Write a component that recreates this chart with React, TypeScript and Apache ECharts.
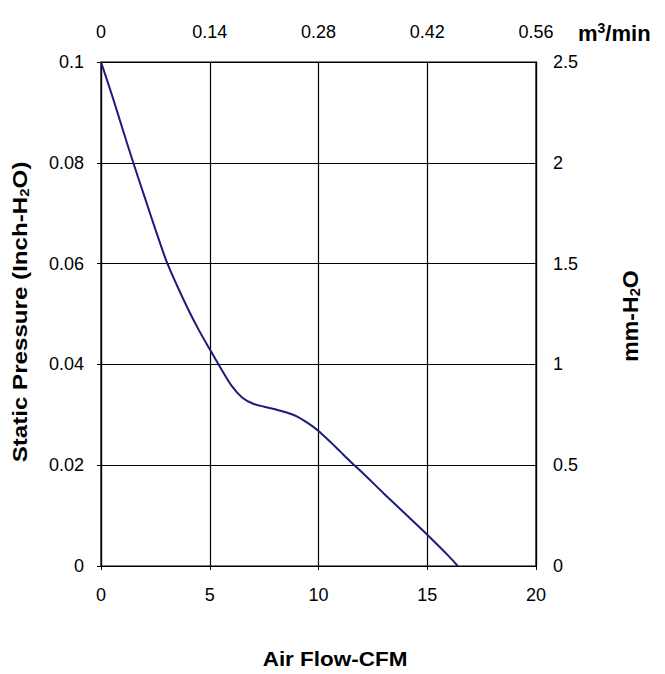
import React, { useEffect, useRef } from "react";
import * as echarts from "echarts";

const flowCFM = [0, 0.5, 1, 1.5, 2, 2.5, 3, 3.5, 4, 4.5, 5, 5.5, 6, 6.5, 7, 7.5, 8, 8.5, 9, 9.5, 10, 10.5, 11, 11.5, 12, 13, 14, 15, 16, 16.4];
const pressureInch = [0.1, 0.0935, 0.0866, 0.0798, 0.0733, 0.0668, 0.0606, 0.0556, 0.051, 0.0468, 0.043, 0.0393, 0.0358, 0.0334, 0.0322, 0.0316, 0.0311, 0.0305, 0.0297, 0.0284, 0.0268, 0.0248, 0.0227, 0.0206, 0.0186, 0.0144, 0.0103, 0.0062, 0.0019, 0];
const topTicks = ["0", "0.14", "0.28", "0.42", "0.56"];

const FONT = "Liberation Sans, Arial, sans-serif";

export default function App() {
  const ref = useRef<HTMLDivElement>(null);
  useEffect(() => {
    if (!ref.current) return;
    const chart = echarts.init(ref.current, undefined, { renderer: "svg" });
    const data = flowCFM.map((x, i) => [x, pressureInch[i]]);
    const axisLine = { show: true, lineStyle: { color: "#000", width: 1.2 } };
    const split = { show: true, lineStyle: { color: "#000", width: 1.2 } };
    const label = { color: "#000", fontSize: 18, fontFamily: FONT };
    const titleRich = (size: number) => ({
      a: { fontSize: size, fontWeight: "bold", fontFamily: FONT, fill: "#000" },
      s: { fontSize: Math.round(size * 0.62), fontWeight: "bold", fontFamily: FONT, fill: "#000", padding: [9, 0, 0, 0] },
    });
    chart.setOption({
      animation: false,
      backgroundColor: "#fff",
      grid: { left: 101, right: 129, top: 62, bottom: 108, show: true, borderColor: "#000", borderWidth: 1.2 },
      xAxis: [
        {
          type: "value", position: "bottom", min: 0, max: 20, interval: 5,
          axisLine, splitLine: split,
          axisTick: { show: true, length: 4, lineStyle: { color: "#000" } },
          axisLabel: { ...label, margin: 20 },
        },
        {
          type: "category", position: "top", data: topTicks, boundaryGap: false,
          axisLine, splitLine: { show: false },
          axisTick: { show: false },
          axisLabel: { ...label, margin: 21, interval: 0 },
        },
      ],
      yAxis: [
        {
          type: "value", position: "left", min: 0, max: 0.1, interval: 0.02,
          axisLine, splitLine: split,
          axisTick: { show: true, length: 4, lineStyle: { color: "#000" } },
          axisLabel: { ...label, margin: 17 },
        },
        {
          type: "value", position: "right", min: 0, max: 2.5, interval: 0.5,
          axisLine, splitLine: { show: false },
          axisTick: { show: false },
          axisLabel: { ...label, margin: 17 },
        },
      ],
      graphic: [
        {
          type: "text", x: 20, y: 312, rotation: Math.PI / 2, scaleX: 1.15,
          style: {
            text: "{a|Static Pressure (Inch-H}{s|2}{a|O)}",
            align: "center", verticalAlign: "middle",
            rich: titleRich(21),
          },
        },
        {
          type: "text", x: 631, y: 316, rotation: Math.PI / 2, scaleX: 1.05,
          style: {
            text: "{a|mm-H}{s|2}{a|O}",
            align: "center", verticalAlign: "middle",
            rich: titleRich(22),
          },
        },
        {
          type: "text", x: 335, y: 659, scaleX: 1.07,
          style: {
            text: "Air Flow-CFM", align: "center", verticalAlign: "middle",
            fontSize: 21, fontWeight: "bold", fontFamily: FONT, fill: "#000",
          },
        },
        {
          type: "text", x: 578, y: 33,
          style: {
            text: "{a|m}{s|3}{a|/min}",
            align: "left", verticalAlign: "middle",
            rich: {
              a: { fontSize: 22, fontWeight: "bold", fontFamily: FONT, fill: "#000" },
              s: { fontSize: 14, fontWeight: "bold", fontFamily: FONT, fill: "#000", padding: [0, 0, 11, 0] },
            },
          },
        },
      ],
      series: [
        {
          type: "line", xAxisIndex: 0, yAxisIndex: 0, data, smooth: 0.3,
          showSymbol: false, symbol: "none",
          lineStyle: { color: "#1c1c7a", width: 2 },
        },
      ],
    });
    return () => chart.dispose();
  }, []);
  return <div ref={ref} style={{ position: "fixed", left: 0, top: 0, width: 665, height: 674 }} />;
}
